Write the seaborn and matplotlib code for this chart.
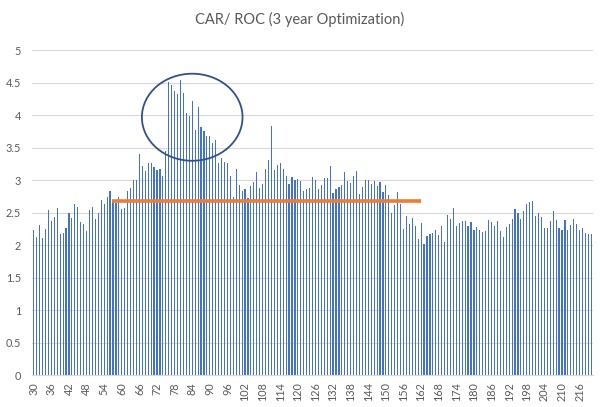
import matplotlib
matplotlib.use("Agg")
import matplotlib.pyplot as plt
from matplotlib.patches import Ellipse
import seaborn as sns
import pandas as pd

# ---- data ----
periods = list(range(30, 221))
car_roc = [
    2.23, 2.12, 2.31, 2.11, 2.25, 2.55, 2.37, 2.43, 2.57, 2.17,   # 30-39
    2.19, 2.26, 2.50, 2.42, 2.64, 2.59, 2.36, 2.32, 2.22, 2.54,   # 40-49
    2.59, 2.41, 2.49, 2.70, 2.64, 2.74, 2.83, 2.67, 2.65, 2.74,   # 50-59
    2.56, 2.58, 2.84, 2.88, 3.00, 3.01, 3.40, 3.22, 3.14, 3.26,   # 60-69
    3.27, 3.21, 3.16, 3.18, 3.06, 3.45, 4.51, 4.46, 4.38, 4.33,   # 70-79
    4.54, 4.34, 4.04, 3.99, 4.22, 3.77, 4.13, 3.82, 3.76, 3.68,   # 80-89
    3.68, 3.57, 3.62, 3.27, 3.35, 3.28, 3.27, 3.07, 2.75, 3.17,   # 90-99
    2.93, 2.84, 2.86, 2.73, 2.91, 2.97, 3.12, 2.88, 2.94, 3.17,   # 100-109
    3.31, 3.84, 3.16, 3.23, 3.26, 3.17, 3.07, 2.94, 3.05, 3.00,   # 110-119
    3.02, 2.99, 2.83, 2.86, 2.88, 3.05, 3.00, 2.86, 2.93, 3.03,   # 120-129
    3.03, 3.22, 2.81, 2.87, 2.90, 2.93, 3.13, 2.99, 2.96, 3.07,   # 130-139
    3.14, 2.79, 2.90, 3.01, 3.00, 2.95, 2.99, 2.91, 2.97, 2.82,   # 140-149
    2.93, 2.77, 2.50, 2.62, 2.82, 2.63, 2.25, 2.45, 2.33, 2.42,   # 150-159
    2.30, 2.09, 2.35, 2.02, 2.14, 2.17, 2.19, 2.23, 2.16, 2.29,   # 160-169
    2.05, 2.46, 2.40, 2.58, 2.30, 2.34, 2.37, 2.37, 2.30, 2.36,   # 170-179
    2.23, 2.28, 2.23, 2.20, 2.22, 2.39, 2.36, 2.30, 2.37, 2.22,   # 180-189
    2.12, 2.28, 2.33, 2.40, 2.56, 2.50, 2.41, 2.52, 2.63, 2.66,   # 190-199
    2.68, 2.45, 2.50, 2.44, 2.26, 2.26, 2.38, 2.53, 2.39, 2.26,   # 200-209
    2.23, 2.39, 2.23, 2.31, 2.41, 2.33, 2.23, 2.26, 2.19, 2.17,   # 210-219
    2.17,                                                         # 220
]
tick_labels = [str(p) for p in range(30, 221, 6)]
y_ticks = [0, 0.5, 1, 1.5, 2, 2.5, 3, 3.5, 4, 4.5, 5]
y_tick_labels = ["0", "0.5", "1", "1.5", "2", "2.5", "3", "3.5", "4", "4.5", "5"]
ref_level = 2.68          # orange reference line value
ref_start, ref_end = 56.7, 161.9   # period range of the reference line
highlight_center = (84.0, 3.97)    # (period, value) centre of the circled cluster
highlight_size = (34.3, 1.34)      # (periods, value units)

assert len(car_roc) == len(periods)

df = pd.DataFrame({"period": [str(p) for p in periods], "value": car_roc})

sns.set_theme(style="white")
plt.rcParams["font.family"] = ["Lato", "DejaVu Sans"]

fig = plt.figure(figsize=(6.0, 4.07), dpi=100)
ax = fig.add_axes([0.0538, 0.0781, 0.988 - 0.0538, 0.8764 - 0.0781])

sns.barplot(data=df, x="period", y="value", color="#4472C4", saturation=1,
            width=0.40, linewidth=0, edgecolor="none", ax=ax, zorder=2)

ax.set_ylim(0, 5)
ax.set_xlim(-0.5, len(periods) - 0.5)
ax.set_yticks(y_ticks)
ax.set_yticklabels(y_tick_labels)
pos = [periods.index(int(t)) for t in tick_labels]
ax.set_xticks(pos)
ax.set_xticklabels(tick_labels, rotation=90)
ax.tick_params(axis="both", length=0, labelsize=7.8, colors="#595959")
ax.tick_params(axis="y", pad=8)
ax.tick_params(axis="x", pad=5)
ax.set_xlabel("")
ax.set_ylabel("")

ax.yaxis.grid(True, color="#D9D9D9", linewidth=0.8, zorder=0)
ax.set_axisbelow(True)
for side in ["top", "right", "left"]:
    ax.spines[side].set_visible(False)
ax.spines["bottom"].set_color("#D9D9D9")
ax.spines["bottom"].set_linewidth(0.8)

# reference line (orange)
x0 = ref_start - periods[0]
x1 = ref_end - periods[0]
ax.hlines(ref_level, x0, x1, color="#ED7D31", linewidth=2.6, zorder=4)

# highlight ellipse
ell = Ellipse((highlight_center[0] - periods[0], highlight_center[1]),
              highlight_size[0], highlight_size[1],
              fill=False, edgecolor="#2F528F", linewidth=1.3, zorder=5)
ax.add_patch(ell)

fig.text(0.5, 0.951, "CAR/ ROC (3 year Optimization)", ha="center", va="center",
         fontsize=10.5, color="#595959")

fig.savefig("out.png", dpi=100)
